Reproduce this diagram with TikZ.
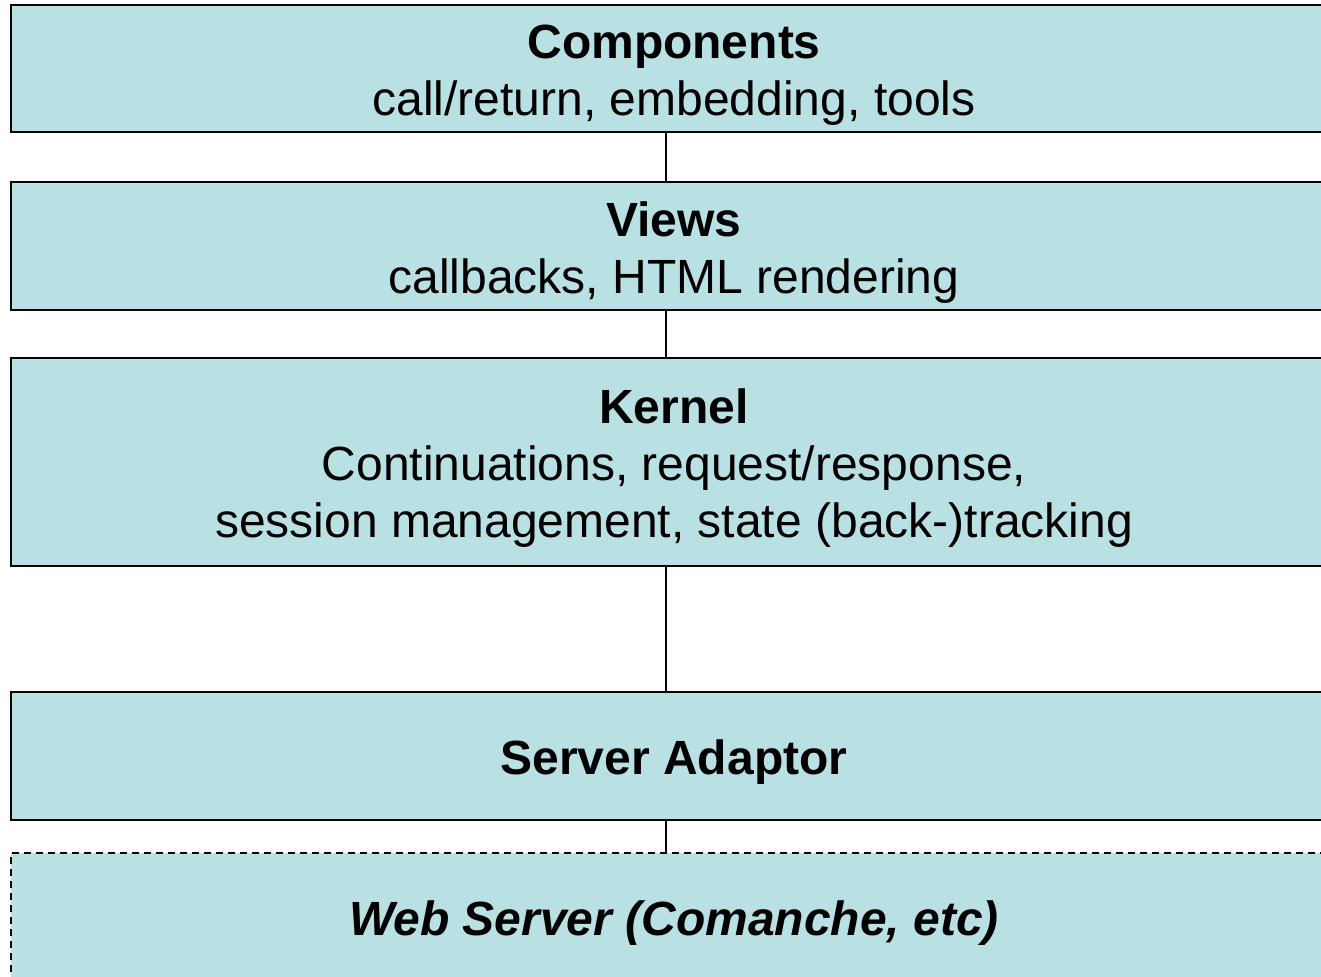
\documentclass[tikz,border=0pt]{standalone}
\usepackage{fontspec}
\setmainfont{Liberation Sans}
\usepackage{tikz}
\usetikzlibrary{positioning}
\definecolor{layerfill}{RGB}{185,224,227}
\newcommand{\lift}{\rule{0pt}{23.5pt}}

\tikzset{
  layer/.style={rectangle,draw=black,line width=1pt,fill=layerfill,
    minimum width=663pt,align=center,inner sep=0pt,
    font=\fontsize{24}{28.5}\selectfont},
  link/.style={line width=1pt}
}

\begin{document}
\begin{tikzpicture}[x=0.5pt,y=-0.5pt]
  \useasboundingbox (0,0) rectangle (1321,976);
  \clip (0,0) rectangle (1321,976);
  \node[layer,minimum height=63.5pt](comp) at (674,68.5){\lift\textbf{Components}\\call/return, embedding, tools};
  \node[layer,minimum height=64pt](views) at (674,246){\lift\textbf{Views}\\callbacks, HTML rendering};
  \node[layer,minimum height=104pt](kernel) at (674,462){\lift\textbf{Kernel}\\Continuations, request/response,\\session management, state (back-)tracking};
  \node[layer,minimum height=64pt](adaptor) at (674,756){\lift\textbf{Server Adaptor}};
  \node[layer,minimum height=64pt,dash pattern=on 3.5pt off 2.5pt](web) at (674,917){\lift\textbf{\itshape Web Server (Comanche, etc)}};
  \coordinate (mid) at (666,0);
  % connectors between the layers
  \draw[link] (comp.south -| mid) -- (views.north -| mid);
  \draw[link] (views.south -| mid) -- (kernel.north -| mid);
  \draw[link] (kernel.south -| mid) -- (adaptor.north -| mid);
  \draw[link] (adaptor.south -| mid) -- (web.north -| mid);
\end{tikzpicture}
\end{document}
